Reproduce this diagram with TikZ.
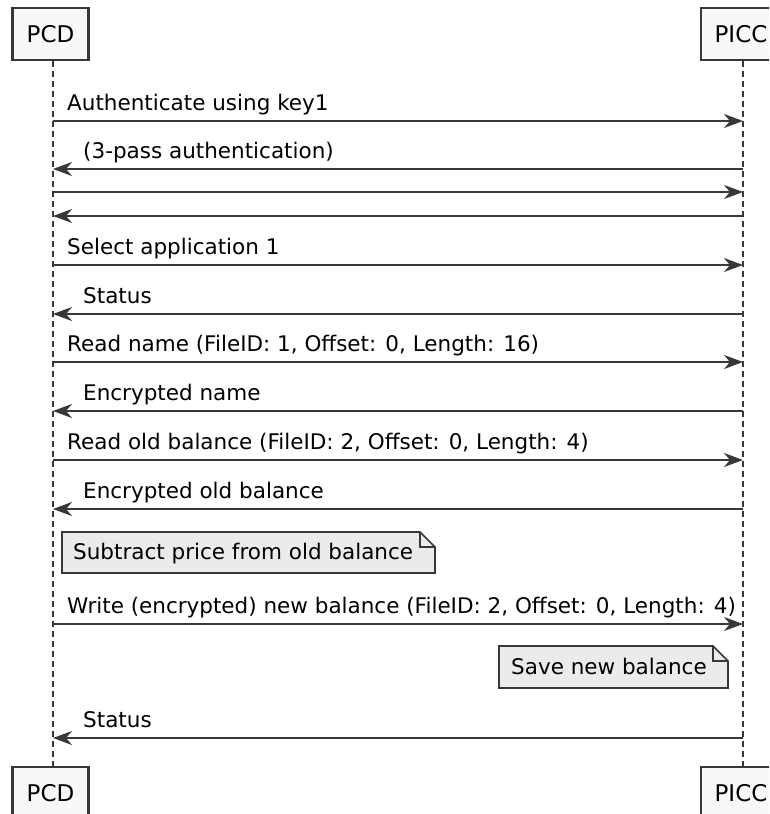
\documentclass[tikz,border=0pt]{standalone}
\usepackage{fontspec}
\setmainfont{DejaVu Sans}
\usetikzlibrary{arrows.meta,calc}
\definecolor{ln}{HTML}{383838}
\definecolor{pfill}{HTML}{F8F8F8}
\definecolor{nfill}{HTML}{EBEBEB}
\begin{document}
\begin{tikzpicture}[x=1pt,y=-1pt,
  font=\fontsize{21.5}{26}\selectfont,
  part/.style={draw=ln, fill=pfill, line width=2.2pt, minimum width=76pt, minimum height=52pt, inner sep=0pt, font=\fontsize{23}{28}\selectfont},
  life/.style={draw=ln, line width=1.4pt, dash pattern=on 6pt off 4pt},
  msg/.style={draw=ln, line width=1.7pt, -{Stealth[length=19pt,width=14pt,inset=6pt]}},
  lbl/.style={anchor=base west, inner sep=0pt, text=black},
  notebox/.style={draw=ln, fill=nfill, line width=1.7pt, line join=miter}
]
\useasboundingbox (0,0) rectangle (769,814);
\clip (0,0) rectangle (769,814);

% participants
\node[part] (pcdT) at (50.5,34) {PCD};
\node[part, minimum width=80pt] (piccT) at (741,34) {PICC};
\node[part] (pcdB) at (50.5,793) {PCD};
\node[part, minimum width=80pt] (piccB) at (741,793) {PICC};

% lifeline anchors
\coordinate (A) at (53,0);
\coordinate (B) at (743,0);
\draw[life] ($(A)+(0,61)$) -- ($(A)+(0,766)$);
\draw[life] ($(B)+(0,61)$) -- ($(B)+(0,766)$);

% messages
\draw[msg] ($(A)+(0,121)$) -- ($(B)+(0,121)$);
\node[lbl] (m1) at (67,110) {Authenticate using key1};
\draw[msg] ($(B)+(0,169)$) -- ($(A)+(0,169)$);
\node[lbl] (m2) at (83,158) {(3-pass authentication)};
\draw[msg] ($(A)+(0,192)$) -- ($(B)+(0,192)$);
\draw[msg] ($(B)+(0,216)$) -- ($(A)+(0,216)$);
\draw[msg] ($(A)+(0,265)$) -- ($(B)+(0,265)$);
\node[lbl] (m5) at (67,254) {Select application 1};
\draw[msg] ($(B)+(0,314)$) -- ($(A)+(0,314)$);
\node[lbl] (m6) at (83,303) {Status};
\draw[msg] ($(A)+(0,362)$) -- ($(B)+(0,362)$);
\node[lbl] (m7) at (67,351) {Read name (FileID: 1, Offset: 0, Length: 16)};
\draw[msg] ($(B)+(0,411)$) -- ($(A)+(0,411)$);
\node[lbl] (m8) at (83,400) {Encrypted name};
\draw[msg] ($(A)+(0,460)$) -- ($(B)+(0,460)$);
\node[lbl] (m9) at (67,449) {Read old balance (FileID: 2, Offset: 0, Length: 4)};
\draw[msg] ($(B)+(0,509)$) -- ($(A)+(0,509)$);
\node[lbl] (m10) at (83,498) {Encrypted old balance};

% note 1
\draw[notebox] (62,532) -- (420,532) -- (435,547) -- (435,573) -- (62,573) -- cycle;
\draw[ln, line width=1.7pt, line join=miter] (420,532) -- (420,547) -- (435,547);
\node[lbl] (n1) at (73,559) {Subtract price from old balance};

\draw[msg] ($(A)+(0,624)$) -- ($(B)+(0,624)$);
\node[lbl] (m11) at (67,613) {Write (encrypted) new balance (FileID: 2, Offset: 0, Length: 4)};

% note 2
\draw[notebox] (499,646) -- (713,646) -- (728,661) -- (728,688) -- (499,688) -- cycle;
\draw[ln, line width=1.7pt, line join=miter] (713,646) -- (713,661) -- (728,661);
\node[lbl] (n2) at (511,674) {Save new balance};

\draw[msg] ($(B)+(0,738)$) -- ($(A)+(0,738)$);
\node[lbl] (m12) at (83,727) {Status};
\end{tikzpicture}
\end{document}
